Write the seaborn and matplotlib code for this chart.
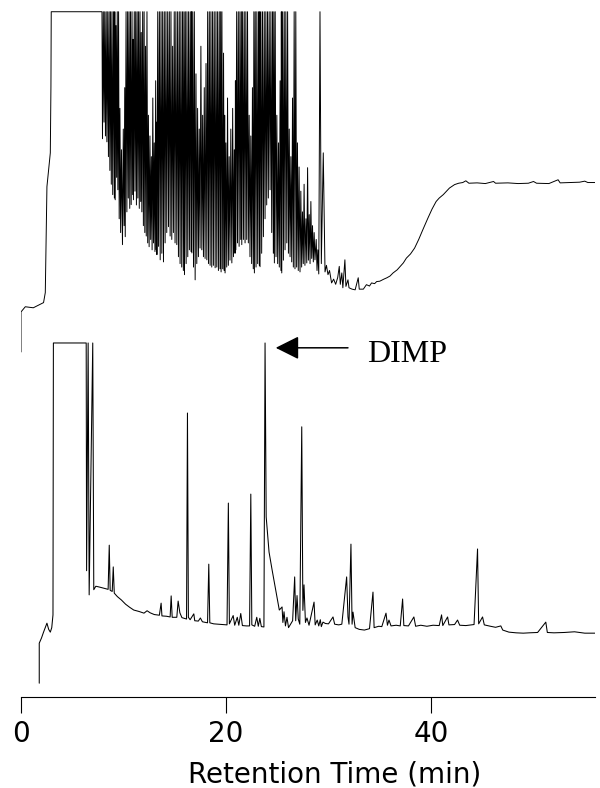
import numpy as np
import pandas as pd
import matplotlib
matplotlib.use("Agg")
import matplotlib.pyplot as plt
import seaborn as sns

sns.set_style("white")
plt.rcParams["font.family"] = ["DejaVu Sans"]
plt.rcParams["text.color"] = "black"
plt.rcParams["axes.labelcolor"] = "black"
plt.rcParams["xtick.color"] = "black"

# ==========================
# Data (detector response, % of full scale; 100 = off-scale)
# ==========================

# upper chromatogram: start + solvent front
upper_start_t = [0.00, 0.00, 0.42, 1.20, 2.20, 2.37, 2.53, 2.86, 2.92, 2.95, 7.90]
upper_start_s = [1.4, 13.0, 14.5, 14.2, 15.7, 18.6, 49.3, 59.1, 78.3, 100, 100]

# upper chromatogram: dense peak region (apex / trough pairs)
upper_forest_t = [
    7.95, 8.03, 8.10, 8.17, 8.24, 8.31, 8.38, 8.46, 8.53, 8.60, 8.67, 8.74, 8.81,
    8.88, 8.95, 9.03, 9.11, 9.15, 9.19, 9.27, 9.33, 9.39, 9.45, 9.52, 9.58, 9.65,
    9.72, 9.80, 9.90, 9.98, 10.06, 10.12, 10.17, 10.25, 10.33, 10.40, 10.47, 10.54,
    10.61, 10.68, 10.75, 10.83, 10.90, 10.94, 10.97, 11.05, 11.12, 11.19, 11.26,
    11.33, 11.40, 11.47, 11.54, 11.61, 11.68, 11.73, 11.79, 11.87, 11.94, 12.01,
    12.08, 12.15, 12.22, 12.29, 12.36, 12.43, 12.50, 12.58, 12.65, 12.72, 12.79,
    12.86, 12.93, 13.00, 13.07, 13.14, 13.20, 13.23, 13.26, 13.34, 13.42, 13.50,
    13.58, 13.66, 13.74, 13.82, 13.90, 13.98, 14.06, 14.14, 14.22, 14.31, 14.39,
    14.47, 14.55, 14.63, 14.71, 14.79, 14.87, 14.95, 15.03, 15.11, 15.20, 15.28,
    15.36, 15.44, 15.52, 15.60, 15.68, 15.76, 15.84, 15.90, 15.95, 16.03, 16.11,
    16.19, 16.27, 16.35, 16.43, 16.51, 16.59, 16.63, 16.67, 16.75, 16.83, 16.91,
    16.99, 17.07, 17.15, 17.23, 17.31, 17.39, 17.47, 17.55, 17.64, 17.72, 17.80,
    17.88, 17.96, 18.05, 18.13, 18.21, 18.29, 18.37, 18.45, 18.53, 18.61, 18.69,
    18.77, 18.85, 18.94, 19.02, 19.10, 19.18, 19.26, 19.34, 19.42, 19.48, 19.52,
    19.60, 19.68, 19.76, 19.83, 19.87, 19.91, 19.99, 20.07, 20.15, 20.23, 20.31,
    20.39, 20.47, 20.57, 20.65, 20.73, 20.81, 20.88, 20.92, 20.96, 21.04, 21.12,
    21.20, 21.28, 21.36, 21.44, 21.50, 21.54, 21.62, 21.70, 21.78, 21.86, 21.94,
    22.02, 22.10, 22.18, 22.26, 22.34, 22.42, 22.50, 22.58, 22.66, 22.72, 22.77,
    22.85, 22.93, 23.01, 23.09, 23.17, 23.25, 23.29, 23.32, 23.40, 23.48, 23.56,
    23.65, 23.73, 23.81, 23.89, 23.97, 24.05, 24.13, 24.21, 24.30, 24.38, 24.46,
    24.54, 24.62, 24.67, 24.72, 24.80, 24.88, 24.96, 25.04, 25.12, 25.20, 25.28,
    25.36, 25.40, 25.44, 25.52, 25.60, 25.68, 25.76, 25.84, 25.93, 26.01, 26.09,
    26.17, 26.25, 26.33, 26.41, 26.49, 26.57, 26.65, 26.73, 26.81, 26.89, 26.97,
    27.05, 27.13, 27.22, 27.30, 27.38, 27.46, 27.54, 27.62, 27.70, 27.80, 27.88,
    27.96, 28.04, 28.12, 28.20, 28.28, 28.36, 28.44, 28.52, 28.60, 28.68, 28.80,
    28.88, 28.96, 29.05, 29.17, 29.30, 29.49, 29.66,
]
upper_forest_s = [
    63.2, 100, 68, 100, 64, 100, 62.3, 100, 58, 100, 54, 100, 50,
    100, 47, 100, 46, 100, 45.5, 96, 52, 100, 48.4, 100, 40, 72,
    36, 60, 32.5, 66, 38, 78, 34.8, 100, 42, 100, 46, 100,
    43, 100, 44.1, 100, 47, 92, 45.5, 100, 48, 100, 44,
    100, 46, 100, 43, 100, 45, 94, 42.0, 100, 38, 100,
    36, 90, 35, 100, 33, 70, 31.9, 64, 34, 58, 31,
    75, 33, 62, 30.5, 80, 31, 68, 29.6, 100, 32, 100,
    28.1, 100, 30, 100, 27.5, 100, 33, 100, 36, 100, 37.7,
    100, 35, 100, 34, 90, 36, 100, 33, 100, 32.5, 100,
    29, 100, 27, 100, 26, 100, 25, 100, 23.8, 100, 27,
    100, 29, 100, 31, 100, 30.5, 100, 30.1, 100, 26, 100,
    22.3, 82, 27, 72, 29, 66, 31.5, 90, 31.0, 70, 29,
    78, 28.5, 85, 28.1, 100, 27, 100, 26.5, 100, 26, 100,
    26.5, 100, 25.8, 100, 26, 100, 25, 100, 25.5, 100, 24.6,
    100, 25.5, 88, 25, 70, 24.3, 62, 26, 75, 26.5, 58,
    28, 66, 27.2, 72, 29, 60, 30, 80, 31.0, 100, 33,
    100, 32, 100, 34, 100, 32.5, 100, 34, 100, 33, 100,
    34, 100, 33.0, 70, 29, 64, 27, 78, 25.5, 100, 24.3,
    100, 26, 100, 27, 100, 26.5, 100, 26.1, 100, 30, 100,
    34.8, 100, 40, 100, 44, 100, 46, 100, 48.4, 100, 36,
    100, 30, 100, 27.2, 100, 29, 70, 27, 62, 26, 80,
    25, 100, 24.3, 100, 28, 100, 31, 100, 33.0, 100, 30,
    66, 29, 58, 27.5, 75, 26, 100, 25.5, 100, 26, 62,
    25, 55, 24.6, 48, 26, 42, 27, 50, 26.5, 40, 27.2,
    54.8, 28, 41.2, 27, 45, 28.5, 38, 27.5, 36, 28.1, 34,
    25, 31, 24, 100, 27, 59.1, 24.6,
]

# upper chromatogram: baseline drift to the end of the run
upper_tail_t = [
    29.80, 29.95, 30.10, 30.30, 30.50, 30.70, 30.90, 31.05, 31.15, 31.30, 31.40,
    31.60, 31.70, 31.90, 32.00, 32.30, 32.60, 32.90, 33.00, 33.40, 33.70, 34.00,
    34.20, 34.50, 34.70, 35.00, 35.40, 35.70, 36.00, 36.30, 36.70, 37.00, 37.30,
    37.60, 38.00, 38.40, 38.80, 39.20, 39.70, 40.10, 40.50, 40.80, 41.20, 41.80,
    42.30, 42.70, 43.10, 43.40, 43.70, 44.50, 45.30, 46.10, 46.30, 47.50, 48.50,
    49.50, 50.00, 50.30, 51.50, 52.40, 52.60, 53.50, 54.50, 55.00, 55.30, 56.00,
]
upper_tail_s = [
    26.5, 23.8, 25.0, 21.4, 22.5, 21.0, 23.0, 26.2, 21.0, 24.3, 20.0,
    28.1, 20.4, 22.3, 20.0, 19.6, 19.4, 22.9, 19.6, 19.6, 20.9, 20.5,
    21.4, 21.2, 21.8, 21.9, 22.5, 22.9, 23.4, 24.3, 25.2, 26.2, 27.2,
    28.6, 29.8, 31.5, 34.0, 36.8, 40.2, 42.8, 45.0, 46.0, 47.0, 48.9,
    49.9, 50.3, 50.5, 51.0, 50.3, 50.4, 50.2, 50.8, 50.3, 50.4, 50.2,
    50.3, 50.8, 50.3, 50.2, 51.3, 50.4, 50.5, 50.6, 50.9, 50.5, 50.5,
]

# lower chromatogram
lower_t = [
    1.78, 1.78, 2.00, 2.20, 2.53, 2.70, 2.86, 3.00, 3.12, 3.16, 6.36, 6.40,
    6.55, 6.65, 7.00, 7.10, 7.30, 7.60, 8.00, 8.50, 8.61, 8.70, 8.90, 9.00,
    9.10, 9.40, 9.80, 10.20, 10.60, 11.00, 11.50, 12.00, 12.30, 12.60, 13.00,
    13.50, 13.67, 13.75, 14.20, 14.55, 14.65, 14.75, 15.20, 15.33, 15.50, 15.70,
    16.15, 16.24, 16.33, 16.50, 16.86, 16.95, 17.30, 17.50, 17.70, 18.20, 18.32,
    18.42, 18.80, 19.20, 19.60, 20.10, 20.23, 20.33, 20.70, 20.85, 21.10, 21.25,
    21.44, 21.60, 22.00, 22.30, 22.42, 22.52, 22.80, 23.00, 23.15, 23.30, 23.45,
    23.70, 23.81, 23.92, 24.20, 24.50, 24.80, 25.20, 25.47, 25.55, 25.66, 25.80,
    25.95, 26.10, 26.30, 26.50, 26.70, 26.80, 26.93, 27.05, 27.20, 27.39, 27.50,
    27.61, 27.75, 27.90, 28.10, 28.59, 28.70, 28.90, 29.05, 29.20, 29.30, 29.46,
    29.70, 30.00, 30.44, 30.60, 31.00, 31.30, 31.77, 31.90, 32.00, 32.19, 32.30,
    32.39, 32.60, 33.00, 33.50, 34.00, 34.34, 34.45, 34.90, 35.20, 35.61, 35.75,
    35.90, 36.10, 36.60, 37.00, 37.23, 37.35, 37.80, 38.33, 38.50, 39.00, 39.60,
    40.20, 40.80, 41.03, 41.15, 41.62, 41.75, 42.30, 42.59, 42.80, 43.40, 44.20,
    44.54, 44.65, 45.03, 45.20, 45.80, 46.30, 46.81, 47.00, 47.60, 48.30, 49.00,
    49.60, 50.40, 51.20, 51.35, 52.00, 53.00, 54.00, 55.00, 56.00,
]
lower_s = [
    1.4, 13.0, 14.5, 16.2, 18.8, 17.0, 16.2, 17.5, 21.2, 100, 100, 34,
    100, 27, 100, 28.5, 29.5, 29.3, 29.0, 28.6, 41.4, 28.3, 28.0, 35.1,
    27.5, 26.5, 25.5, 24.3, 23.4, 22.6, 22.2, 21.7, 22.4, 21.8, 21.3,
    21.1, 24.6, 20.9, 20.8, 20.6, 26.7, 20.5, 20.5, 25.2, 21.8, 20.4,
    20.0, 79.7, 20.5, 19.8, 21.5, 19.5, 19.4, 20.3, 19.2, 18.9, 35.9,
    18.9, 18.6, 18.5, 18.4, 18.3, 53.6, 18.6, 21.0, 18.2, 20.5, 18.2,
    21.6, 18.1, 18.0, 18.0, 56.2, 18.3, 17.9, 20.5, 17.9, 20.2, 17.8,
    17.7, 100, 49.6, 39.4, 34.2, 29.3, 22.6, 23.5, 19.0, 22.1, 18.0,
    20.5, 17.5, 18.5, 19.5, 32.2, 19.5, 26.8, 20.0, 18.5, 75.7, 22.5,
    29.9, 19.0, 20.3, 18.2, 24.9, 18.3, 19.7, 18.0, 19.8, 17.8, 19.1,
    18.7, 18.6, 20.6, 18.5, 18.3, 18.5, 32.2, 20.6, 18.5, 41.7, 18.5,
    22.0, 17.5, 17.0, 16.8, 17.2, 27.8, 17.5, 17.9, 17.8, 21.7, 18.2,
    19.7, 18.0, 18.2, 18.0, 25.8, 18.1, 18.0, 20.6, 17.9, 18.2, 17.9,
    18.2, 18.1, 21.2, 18.1, 20.6, 18.3, 18.4, 19.7, 18.2, 18.1, 18.4,
    40.3, 18.6, 20.6, 18.3, 17.9, 17.6, 18.0, 16.8, 16.2, 16.0, 15.9,
    16.0, 16.1, 19.1, 16.1, 16.0, 16.1, 16.3, 15.9, 15.9,
]

UPPER_OFFSET = 96
tick_values = [0, 20, 40]

upper = pd.DataFrame({
    "time": upper_start_t + upper_forest_t + upper_tail_t,
    "signal": np.array(upper_start_s + upper_forest_s + upper_tail_s) + UPPER_OFFSET,
})
lower = pd.DataFrame({"time": lower_t, "signal": lower_s})

# ==========================
# Plot
# ==========================
fig = plt.figure(figsize=(6, 7.88), dpi=100)
ax = fig.add_axes([21 / 600, 1 - 697 / 788, 574 / 600, 697 / 788])

sns.lineplot(data=upper, x="time", y="signal", sort=False, estimator=None,
             color="black", lw=0.7, ax=ax)
sns.lineplot(data=lower, x="time", y="signal", sort=False, estimator=None,
             color="black", lw=0.75, ax=ax)

ax.set_xlim(0, 56)
ax.set_ylim(-2.6, 199.4)
for side in ["left", "top", "right"]:
    ax.spines[side].set_visible(False)
ax.spines["bottom"].set_linewidth(0.8)
ax.spines["bottom"].set_color("black")
ax.set_yticks([])
ax.set_ylabel("")
ax.set_xticks(tick_values)
ax.tick_params(axis="x", bottom=True, direction="out", length=11.5, width=0.8,
               labelsize=20, pad=4.8, color="black", labelcolor="black")
ax.set_xlabel("Retention Time (min)", fontsize=20, color="black")
ax.xaxis.set_label_coords(0.547, -0.0904)

# DIMP marker
ax.annotate("", xy=(24.85, 98.6), xytext=(31.9, 98.6),
            arrowprops=dict(arrowstyle="-|>,head_length=0.72,head_width=0.36",
                            mutation_scale=20, lw=1.1, color="black",
                            shrinkA=0, shrinkB=0))
ax.text(33.75, 94.6, "DIMP", fontsize=23, family="Liberation Serif",
        color="black", ha="left", va="baseline")

fig.savefig("out.png", dpi=100)
